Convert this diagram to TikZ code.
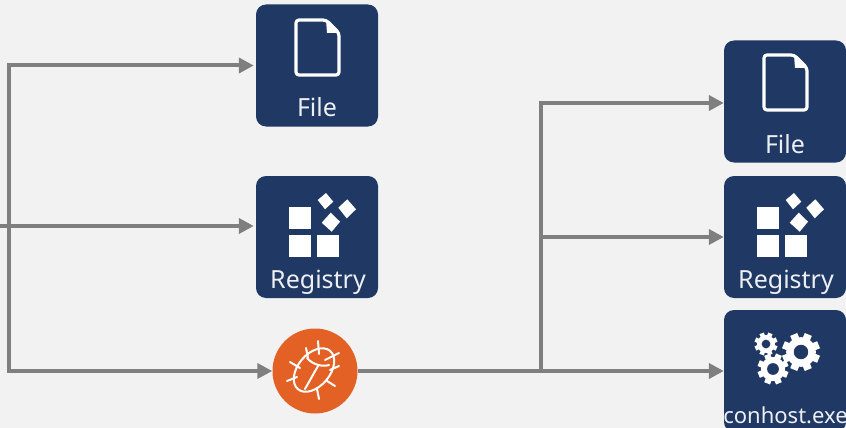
\documentclass[tikz,border=0pt]{standalone}
\usepackage{fontspec}
\setmainfont{Noto Sans}
\usetikzlibrary{arrows.meta}
\definecolor{boxblue}{HTML}{1F3864}
\definecolor{bugorange}{HTML}{E46126}
\definecolor{flowgray}{HTML}{7F7F7F}
\definecolor{backgray}{HTML}{F2F2F2}

\begin{document}
\begin{tikzpicture}[
    x=1pt, y=-1pt,
    tilebox/.style={draw=none, fill=boxblue, rounded corners=10pt, inner sep=0pt, minimum width=122pt, minimum height=122pt},
    tiletext/.style={text=white!92!boxblue, font=\fontsize{25}{25}\selectfont, inner sep=0pt, anchor=base},
    flow/.style={draw=flowgray, line width=4pt, -{Triangle[length=15pt,width=15pt]}},
    iconline/.style={draw=white, line width=3.2pt, line cap=round, line join=round},
    bugline/.style={draw=white, line width=2pt, line cap=round},
    pics/fileicon/.style={code={
        \draw[iconline, rounded corners=3pt] (-21,-46) -- (9,-46) -- (22,-33) -- (22,9) -- (-21,9) -- cycle;
        \fill[white] (9,-46) -- (22,-33) -- (10,-33) -- cycle;
    }},
    pics/regicon/.style={code={
        \fill[white] (-28,-30) rectangle (-6,-8);
        \fill[white] (-28,-2) rectangle (-6,20);
        \fill[white] (0,-2) rectangle (22,20);
        \fill[white] (9,-44) -- (16.3,-35.3) -- (8,-27.7) -- (0.7,-37) -- cycle;
        \fill[white] (30.3,-37.7) -- (39,-27.7) -- (29.7,-18.7) -- (21.3,-29.3) -- cycle;
        \fill[white] (13.7,-24.3) -- (23,-15.3) -- (14.7,-5.3) -- (4.7,-14.3) -- cycle;
    }},
    pics/gearicon/.style={code={
        \fill[white] (0,0) circle (0.78*#1);
        \foreach \a in {0,45,...,315}
            \fill[white, rotate=\a+22.5] (0.68*#1,-0.2*#1) rectangle (#1,0.2*#1);
        \fill[boxblue] (0,0) circle (0.38*#1);
    }}
]

% Fondo
\fill[backgray] (0,0) rectangle (846,428);
\clip (0,0) rectangle (846,428);

% Cajas
\node[tilebox] (file1) at (317,65.5) {};
\node[tilebox] (reg1) at (317,237) {};
\node[tilebox] (file2) at (785,101.5) {};
\node[tilebox] (reg2) at (785,237) {};
\node[tilebox] (conhost) at (785,371) {};
\node[circle, fill=bugorange, minimum size=85pt, inner sep=0pt] (bug) at (315,371) {};

% Textos
\node[tiletext] (filetxt1) at (317,116) {File};
\node[tiletext] (regtxt1) at (318,288) {Registry};
\node[tiletext] (filetxt2) at (785,153) {File};
\node[tiletext] (regtxt2) at (786,288) {Registry};
\node[tiletext, font=\fontsize{22}{22}\selectfont] (conhosttxt) at (785.5,423) {conhost.exe};

% Iconos
\pic at (317,66) {fileicon};
\pic at (785,101) {fileicon};
\pic at (317,237) {regicon};
\pic at (785,237) {regicon};
\pic at (801,352) {gearicon=19};
\pic at (766,344) {gearicon=11.5};
\pic at (773,369) {gearicon=15.5};

% Bicho
\begin{scope}[shift={(315,371)}]
    \draw[bugline] (-1,-1) ellipse[x radius=25, y radius=16, rotate=50];
    \draw[bugline] (-8,-13) .. controls (-2,-6) and (8,-4) .. (14,-6);
    \draw[bugline] (-10,18) -- (3,-5);
    \draw[bugline] (3,-30) -- (4,-17);
    \draw[bugline] (-9,-23) -- (-7,-13);
    \draw[bugline] (24,-18) -- (10,-11);
    \draw[bugline] (24,-5) -- (15,-1);
    \draw[bugline] (-25,-9) -- (-15,-3);
    \draw[bugline] (-28,10) -- (-18,6);
    \draw[bugline] (20,15) -- (12,10);
    \draw[bugline] (4,28) -- (2,18);
\end{scope}

% Flechas
\coordinate (start) at (0,226);
\coordinate (trunkL) at (9,226);
\coordinate (trunkR) at (541,371);
\draw[flow, shorten >=2pt] (trunkL) |- (file1.west);
\draw[flow, shorten >=2pt] (start) -- (reg1.west |- start);
\draw[flow] (trunkL) |- (bug.west);
\draw[flow] (bug.east) -- (conhost.west |- bug);
\draw[flow] (trunkR) |- (reg2.west);
\draw[flow] (trunkR) |- (file2.west |- 0,103);

\end{tikzpicture}
\end{document}
